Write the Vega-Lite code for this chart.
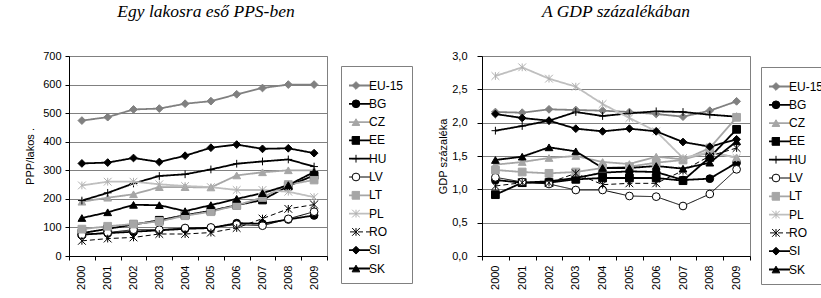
{
  "$schema": "https://vega.github.io/schema/vega-lite/v6.json",
  "background": "white",
  "padding": {"left": 24, "top": 2, "right": 0, "bottom": 0},
  "config": {
    "font": "Liberation Sans",
    "view": {"stroke": "#808080"},
    "axis": {"labelFont": "Liberation Sans", "labelFontSize": 11, "labelColor": "#000", "titleFont": "Liberation Sans", "titleFontSize": 11, "titleFontWeight": "normal", "titleColor": "#000", "domainColor": "#000", "tickColor": "#000", "gridColor": "#808080", "gridWidth": 1},
    "title": {"font": "Liberation Serif", "fontSize": 17.5, "fontStyle": "italic", "fontWeight": "normal", "color": "#000", "anchor": "middle"},
    "concat": {"spacing": 24}
  },
  "datasets": {
    "pps": [
      {"country":"EU-15","year":"2000","value":474},{"country":"EU-15","year":"2001","value":486},{"country":"EU-15","year":"2002","value":513},{"country":"EU-15","year":"2003","value":516},{"country":"EU-15","year":"2004","value":533},{"country":"EU-15","year":"2005","value":542},{"country":"EU-15","year":"2006","value":566},{"country":"EU-15","year":"2007","value":588},{"country":"EU-15","year":"2008","value":600},{"country":"EU-15","year":"2009","value":600},
      {"country":"BG","year":"2000","value":75},{"country":"BG","year":"2001","value":80},{"country":"BG","year":"2002","value":85},{"country":"BG","year":"2003","value":90},{"country":"BG","year":"2004","value":95},{"country":"BG","year":"2005","value":98},{"country":"BG","year":"2006","value":115},{"country":"BG","year":"2007","value":113},{"country":"BG","year":"2008","value":128},{"country":"BG","year":"2009","value":142},
      {"country":"CZ","year":"2000","value":190},{"country":"CZ","year":"2001","value":204},{"country":"CZ","year":"2002","value":216},{"country":"CZ","year":"2003","value":241},{"country":"CZ","year":"2004","value":241},{"country":"CZ","year":"2005","value":240},{"country":"CZ","year":"2006","value":282},{"country":"CZ","year":"2007","value":293},{"country":"CZ","year":"2008","value":300},{"country":"CZ","year":"2009","value":300},
      {"country":"EE","year":"2000","value":80},{"country":"EE","year":"2001","value":95},{"country":"EE","year":"2002","value":110},{"country":"EE","year":"2003","value":125},{"country":"EE","year":"2004","value":143},{"country":"EE","year":"2005","value":158},{"country":"EE","year":"2006","value":178},{"country":"EE","year":"2007","value":196},{"country":"EE","year":"2008","value":245},{"country":"EE","year":"2009","value":282},
      {"country":"HU","year":"2000","value":194},{"country":"HU","year":"2001","value":221},{"country":"HU","year":"2002","value":254},{"country":"HU","year":"2003","value":280},{"country":"HU","year":"2004","value":286},{"country":"HU","year":"2005","value":303},{"country":"HU","year":"2006","value":323},{"country":"HU","year":"2007","value":331},{"country":"HU","year":"2008","value":338},{"country":"HU","year":"2009","value":313},
      {"country":"LV","year":"2000","value":74},{"country":"LV","year":"2001","value":82},{"country":"LV","year":"2002","value":92},{"country":"LV","year":"2003","value":92},{"country":"LV","year":"2004","value":98},{"country":"LV","year":"2005","value":100},{"country":"LV","year":"2006","value":110},{"country":"LV","year":"2007","value":106},{"country":"LV","year":"2008","value":130},{"country":"LV","year":"2009","value":155},
      {"country":"LT","year":"2000","value":94},{"country":"LT","year":"2001","value":104},{"country":"LT","year":"2002","value":112},{"country":"LT","year":"2003","value":121},{"country":"LT","year":"2004","value":141},{"country":"LT","year":"2005","value":155},{"country":"LT","year":"2006","value":177},{"country":"LT","year":"2007","value":205},{"country":"LT","year":"2008","value":250},{"country":"LT","year":"2009","value":266},
      {"country":"PL","year":"2000","value":247},{"country":"PL","year":"2001","value":260},{"country":"PL","year":"2002","value":260},{"country":"PL","year":"2003","value":251},{"country":"PL","year":"2004","value":245},{"country":"PL","year":"2005","value":241},{"country":"PL","year":"2006","value":231},{"country":"PL","year":"2007","value":231},{"country":"PL","year":"2008","value":225},{"country":"PL","year":"2009","value":206},
      {"country":"RO","year":"2000","value":53},{"country":"RO","year":"2001","value":61},{"country":"RO","year":"2002","value":65},{"country":"RO","year":"2003","value":77},{"country":"RO","year":"2004","value":77},{"country":"RO","year":"2005","value":82},{"country":"RO","year":"2006","value":98},{"country":"RO","year":"2007","value":131},{"country":"RO","year":"2008","value":165},{"country":"RO","year":"2009","value":180},
      {"country":"SI","year":"2000","value":324},{"country":"SI","year":"2001","value":327},{"country":"SI","year":"2002","value":343},{"country":"SI","year":"2003","value":329},{"country":"SI","year":"2004","value":351},{"country":"SI","year":"2005","value":379},{"country":"SI","year":"2006","value":390},{"country":"SI","year":"2007","value":375},{"country":"SI","year":"2008","value":377},{"country":"SI","year":"2009","value":360},
      {"country":"SK","year":"2000","value":133},{"country":"SK","year":"2001","value":153},{"country":"SK","year":"2002","value":179},{"country":"SK","year":"2003","value":178},{"country":"SK","year":"2004","value":157},{"country":"SK","year":"2005","value":178},{"country":"SK","year":"2006","value":200},{"country":"SK","year":"2007","value":220},{"country":"SK","year":"2008","value":248},{"country":"SK","year":"2009","value":294}
    ],
    "gdp": [
      {"country":"EU-15","year":"2000","value":2.16},{"country":"EU-15","year":"2001","value":2.15},{"country":"EU-15","year":"2002","value":2.2},{"country":"EU-15","year":"2003","value":2.19},{"country":"EU-15","year":"2004","value":2.18},{"country":"EU-15","year":"2005","value":2.16},{"country":"EU-15","year":"2006","value":2.13},{"country":"EU-15","year":"2007","value":2.09},{"country":"EU-15","year":"2008","value":2.18},{"country":"EU-15","year":"2009","value":2.32},
      {"country":"BG","year":"2000","value":1.14},{"country":"BG","year":"2001","value":1.1},{"country":"BG","year":"2002","value":1.12},{"country":"BG","year":"2003","value":1.17},{"country":"BG","year":"2004","value":1.25},{"country":"BG","year":"2005","value":1.27},{"country":"BG","year":"2006","value":1.26},{"country":"BG","year":"2007","value":1.14},{"country":"BG","year":"2008","value":1.16},{"country":"BG","year":"2009","value":1.4},
      {"country":"CZ","year":"2000","value":1.37},{"country":"CZ","year":"2001","value":1.41},{"country":"CZ","year":"2002","value":1.47},{"country":"CZ","year":"2003","value":1.5},{"country":"CZ","year":"2004","value":1.41},{"country":"CZ","year":"2005","value":1.38},{"country":"CZ","year":"2006","value":1.49},{"country":"CZ","year":"2007","value":1.45},{"country":"CZ","year":"2008","value":1.55},{"country":"CZ","year":"2009","value":1.48},
      {"country":"EE","year":"2000","value":0.92},{"country":"EE","year":"2001","value":1.1},{"country":"EE","year":"2002","value":1.1},{"country":"EE","year":"2003","value":1.15},{"country":"EE","year":"2004","value":1.17},{"country":"EE","year":"2005","value":1.17},{"country":"EE","year":"2006","value":1.17},{"country":"EE","year":"2007","value":1.13},{"country":"EE","year":"2008","value":1.48},{"country":"EE","year":"2009","value":1.9},
      {"country":"HU","year":"2000","value":1.88},{"country":"HU","year":"2001","value":1.95},{"country":"HU","year":"2002","value":2.03},{"country":"HU","year":"2003","value":2.16},{"country":"HU","year":"2004","value":2.1},{"country":"HU","year":"2005","value":2.14},{"country":"HU","year":"2006","value":2.17},{"country":"HU","year":"2007","value":2.16},{"country":"HU","year":"2008","value":2.12},{"country":"HU","year":"2009","value":2.09},
      {"country":"LV","year":"2000","value":1.18},{"country":"LV","year":"2001","value":1.11},{"country":"LV","year":"2002","value":1.08},{"country":"LV","year":"2003","value":0.99},{"country":"LV","year":"2004","value":0.99},{"country":"LV","year":"2005","value":0.9},{"country":"LV","year":"2006","value":0.89},{"country":"LV","year":"2007","value":0.75},{"country":"LV","year":"2008","value":0.93},{"country":"LV","year":"2009","value":1.3},
      {"country":"LT","year":"2000","value":1.29},{"country":"LT","year":"2001","value":1.26},{"country":"LT","year":"2002","value":1.24},{"country":"LT","year":"2003","value":1.26},{"country":"LT","year":"2004","value":1.32},{"country":"LT","year":"2005","value":1.34},{"country":"LT","year":"2006","value":1.4},{"country":"LT","year":"2007","value":1.44},{"country":"LT","year":"2008","value":1.62},{"country":"LT","year":"2009","value":2.08},
      {"country":"PL","year":"2000","value":2.7},{"country":"PL","year":"2001","value":2.83},{"country":"PL","year":"2002","value":2.66},{"country":"PL","year":"2003","value":2.54},{"country":"PL","year":"2004","value":2.28},{"country":"PL","year":"2005","value":2.07},{"country":"PL","year":"2006","value":1.87},{"country":"PL","year":"2007","value":1.47},{"country":"PL","year":"2008","value":1.56},{"country":"PL","year":"2009","value":1.47},
      {"country":"RO","year":"2000","value":1.05},{"country":"RO","year":"2001","value":1.1},{"country":"RO","year":"2002","value":1.1},{"country":"RO","year":"2003","value":1.24},{"country":"RO","year":"2004","value":1.07},{"country":"RO","year":"2005","value":1.09},{"country":"RO","year":"2006","value":1.09},{"country":"RO","year":"2007","value":1.28},{"country":"RO","year":"2008","value":1.5},{"country":"RO","year":"2009","value":1.62},
      {"country":"SI","year":"2000","value":2.13},{"country":"SI","year":"2001","value":2.07},{"country":"SI","year":"2002","value":2.03},{"country":"SI","year":"2003","value":1.91},{"country":"SI","year":"2004","value":1.87},{"country":"SI","year":"2005","value":1.91},{"country":"SI","year":"2006","value":1.87},{"country":"SI","year":"2007","value":1.71},{"country":"SI","year":"2008","value":1.64},{"country":"SI","year":"2009","value":1.75},
      {"country":"SK","year":"2000","value":1.44},{"country":"SK","year":"2001","value":1.49},{"country":"SK","year":"2002","value":1.63},{"country":"SK","year":"2003","value":1.57},{"country":"SK","year":"2004","value":1.32},{"country":"SK","year":"2005","value":1.32},{"country":"SK","year":"2006","value":1.35},{"country":"SK","year":"2007","value":1.31},{"country":"SK","year":"2008","value":1.4},{"country":"SK","year":"2009","value":1.72}
    ]
  },
  "resolve": {"scale": {"color": "independent", "strokeDash": "independent", "shape": "independent", "fill": "independent", "stroke": "independent"}},
  "hconcat": [
    {
      "width": 258,
      "height": 200,
      "title": {"text": "Egy lakosra eső PPS-ben", "frame": "group", "offset": 30, "dx": 8},
      "data": {"name": "pps"},
      "encoding": {
        "x": {"field": "year", "type": "ordinal", "scale": {"type": "band", "paddingInner": 0, "paddingOuter": 0}, "axis": {"title": null, "labelAngle": -90, "labelAlign": "right", "labelBaseline": "middle", "tickBand": "extent", "tickSize": 4, "labelPadding": 5, "grid": false}},
        "y": {"field": "value", "type": "quantitative", "scale": {"domain": [0, 700]}, "axis": {"title": "PPP/lakos .", "values": [0, 100, 200, 300, 400, 500, 600, 700], "tickSize": 4, "labelPadding": 4, "titlePadding": 7, "grid": true}}
      },
      "layer": [
        {
          "mark": {"type": "line", "strokeJoin": "round"},
          "encoding": {
            "color": {"field": "country", "type": "nominal",
              "scale": {"domain": ["EU-15","BG","CZ","EE","HU","LV","LT","PL","RO","SI","SK"], "range": ["#808080","#000000","#a6a6a6","#000000","#000000","#000000","#a6a6a6","#bfbfbf","#000000","#000000","#000000"]},
              "legend": {"orient": "none", "legendX": 272, "legendY": 10, "title": " ", "titleFontSize": 1, "titlePadding": 5, "columns": 1, "clipHeight": 11, "symbolType": "stroke", "symbolSize": 784, "symbolStrokeWidth": 1.8, "symbolOffset": -8, "labelOffset": -2, "strokeColor": "#808080", "fillColor": "white", "padding": 8, "rowPadding": 5.3, "labelFont": "Liberation Sans", "labelFontSize": 12, "labelColor": "#000",
                "encode": {"symbols": {"update": {"strokeWidth": {"signal": "(datum.value === 'LV' || datum.value === 'RO' ? 1 : 1.8)"}}}}}},
            "strokeDash": {"field": "country", "type": "nominal",
              "scale": {"domain": ["EU-15","BG","CZ","EE","HU","LV","LT","PL","RO","SI","SK"], "range": [[1,0],[1,0],[1,0],[1,0],[1,0],[1,0],[1,0],[1,0],[5,3],[1,0],[1,0]]},
              "legend": {"orient": "none", "legendX": 272, "legendY": 10, "title": " ", "titleFontSize": 1, "titlePadding": 5, "columns": 1, "clipHeight": 11, "symbolType": "stroke", "symbolSize": 784, "symbolStrokeWidth": 1.8, "symbolOffset": -8, "labelOffset": -2, "strokeColor": "#808080", "fillColor": "white", "padding": 8, "rowPadding": 5.3, "labelFont": "Liberation Sans", "labelFontSize": 12, "labelColor": "#000"}},
            "strokeWidth": {"condition": {"test": "datum.country === 'LV' || datum.country === 'RO'", "value": 1}, "value": 1.8}
          }
        },
        {
          "mark": {"type": "point", "filled": true, "size": 60, "strokeWidth": 1, "opacity": 1},
          "encoding": {
            "shape": {"field": "country", "type": "nominal",
              "scale": {"domain": ["EU-15","BG","CZ","EE","HU","LV","LT","PL","RO","SI","SK","_"], "range": ["diamond","circle","triangle-up","square","M-1,0L1,0M0,-1L0,1","circle","square","M-1,-1L1,1M-1,1L1,-1M0,-1L0,1","M-1,-1L1,1M-1,1L1,-1M0,-1L0,1","diamond","triangle-up","circle"]},
              "legend": {"orient": "none", "legendX": 272, "legendY": 10, "title": " ", "titleFontSize": 1, "titlePadding": 5, "columns": 1, "clipHeight": 11, "values": ["EU-15","BG","CZ","EE","HU","LV","LT","PL","RO","SI","SK"], "symbolSize": 60, "symbolOffset": 1, "symbolStrokeWidth": 1, "padding": 8, "rowPadding": 5.3, "labelFont": "Liberation Sans", "labelFontSize": 12, "labelColor": "rgba(0,0,0,0)", "labelExpr": "' '", "labelOffset": -2}},
            "fill": {"field": "country", "type": "nominal",
              "scale": {"domain": ["EU-15","BG","CZ","EE","HU","LV","LT","PL","RO","SI","SK","_"], "range": ["#808080","#000000","#a6a6a6","#000000","#000000","#ffffff","#a6a6a6","#bfbfbf","#000000","#000000","#000000","#000000"]},
              "legend": {"orient": "none", "legendX": 272, "legendY": 10, "title": " ", "titleFontSize": 1, "titlePadding": 5, "columns": 1, "clipHeight": 11, "values": ["EU-15","BG","CZ","EE","HU","LV","LT","PL","RO","SI","SK"], "symbolSize": 60, "symbolOffset": 1, "symbolStrokeWidth": 1, "padding": 8, "rowPadding": 5.3, "labelFont": "Liberation Sans", "labelFontSize": 12, "labelColor": "rgba(0,0,0,0)", "labelExpr": "' '", "labelOffset": -2}},
            "stroke": {"field": "country", "type": "nominal",
              "scale": {"domain": ["EU-15","BG","CZ","EE","HU","LV","LT","PL","RO","SI","SK","_"], "range": ["#808080","#000000","#a6a6a6","#000000","#000000","#000000","#a6a6a6","#b0b0b0","#000000","#000000","#000000","#000000"]},
              "legend": {"orient": "none", "legendX": 272, "legendY": 10, "title": " ", "titleFontSize": 1, "titlePadding": 5, "columns": 1, "clipHeight": 11, "values": ["EU-15","BG","CZ","EE","HU","LV","LT","PL","RO","SI","SK"], "symbolSize": 60, "symbolOffset": 1, "symbolStrokeWidth": 1, "padding": 8, "rowPadding": 5.3, "labelFont": "Liberation Sans", "labelFontSize": 12, "labelColor": "rgba(0,0,0,0)", "labelExpr": "' '", "labelOffset": -2}}
          }
        }
      ]
    },
    {
      "width": 268,
      "height": 200,
      "title": {"text": "A GDP százalékában", "frame": "group", "offset": 30},
      "data": {"name": "gdp"},
      "encoding": {
        "x": {"field": "year", "type": "ordinal", "scale": {"type": "band", "paddingInner": 0, "paddingOuter": 0}, "axis": {"title": null, "labelAngle": -90, "labelAlign": "right", "labelBaseline": "middle", "tickBand": "extent", "tickSize": 4, "labelPadding": 5, "grid": false}},
        "y": {"field": "value", "type": "quantitative", "scale": {"domain": [0, 3]}, "axis": {"title": "GDP százaléka", "values": [0, 0.5, 1, 1.5, 2, 2.5, 3], "labelExpr": "replace(format(datum.value, '.1f'), '.', ',')", "tickSize": 5, "labelPadding": 10, "titlePadding": 3, "grid": true}}
      },
      "layer": [
        {
          "mark": {"type": "line", "strokeJoin": "round"},
          "encoding": {
            "color": {"field": "country", "type": "nominal",
              "scale": {"domain": ["EU-15","BG","CZ","EE","HU","LV","LT","PL","RO","SI","SK"], "range": ["#808080","#000000","#a6a6a6","#000000","#000000","#000000","#a6a6a6","#bfbfbf","#000000","#000000","#000000"]},
              "legend": {"orient": "none", "legendX": 279, "legendY": 11, "title": " ", "titleFontSize": 1, "titlePadding": 5, "columns": 1, "clipHeight": 11, "symbolType": "stroke", "symbolSize": 784, "symbolStrokeWidth": 1.8, "symbolOffset": -8, "labelOffset": -2, "strokeColor": "#808080", "fillColor": "white", "padding": 8, "rowPadding": 5.3, "labelFont": "Liberation Sans", "labelFontSize": 12, "labelColor": "#000",
                "encode": {"symbols": {"update": {"strokeWidth": {"signal": "(datum.value === 'LV' || datum.value === 'RO' ? 1 : 1.8)"}}}}}},
            "strokeDash": {"field": "country", "type": "nominal",
              "scale": {"domain": ["EU-15","BG","CZ","EE","HU","LV","LT","PL","RO","SI","SK"], "range": [[1,0],[1,0],[1,0],[1,0],[1,0],[1,0],[1,0],[1,0],[5,3],[1,0],[1,0]]},
              "legend": {"orient": "none", "legendX": 279, "legendY": 11, "title": " ", "titleFontSize": 1, "titlePadding": 5, "columns": 1, "clipHeight": 11, "symbolType": "stroke", "symbolSize": 784, "symbolStrokeWidth": 1.8, "symbolOffset": -8, "labelOffset": -2, "strokeColor": "#808080", "fillColor": "white", "padding": 8, "rowPadding": 5.3, "labelFont": "Liberation Sans", "labelFontSize": 12, "labelColor": "#000"}},
            "strokeWidth": {"condition": {"test": "datum.country === 'LV' || datum.country === 'RO'", "value": 1}, "value": 1.8}
          }
        },
        {
          "mark": {"type": "point", "filled": true, "size": 60, "strokeWidth": 1, "opacity": 1},
          "encoding": {
            "shape": {"field": "country", "type": "nominal",
              "scale": {"domain": ["EU-15","BG","CZ","EE","HU","LV","LT","PL","RO","SI","SK","_"], "range": ["diamond","circle","triangle-up","square","M-1,0L1,0M0,-1L0,1","circle","square","M-1,-1L1,1M-1,1L1,-1M0,-1L0,1","M-1,-1L1,1M-1,1L1,-1M0,-1L0,1","diamond","triangle-up","circle"]},
              "legend": {"orient": "none", "legendX": 279, "legendY": 11, "title": " ", "titleFontSize": 1, "titlePadding": 5, "columns": 1, "clipHeight": 11, "values": ["EU-15","BG","CZ","EE","HU","LV","LT","PL","RO","SI","SK"], "symbolSize": 60, "symbolOffset": 1, "symbolStrokeWidth": 1, "padding": 8, "rowPadding": 5.3, "labelFont": "Liberation Sans", "labelFontSize": 12, "labelColor": "rgba(0,0,0,0)", "labelExpr": "' '", "labelOffset": -2}},
            "fill": {"field": "country", "type": "nominal",
              "scale": {"domain": ["EU-15","BG","CZ","EE","HU","LV","LT","PL","RO","SI","SK","_"], "range": ["#808080","#000000","#a6a6a6","#000000","#000000","#ffffff","#a6a6a6","#bfbfbf","#000000","#000000","#000000","#000000"]},
              "legend": {"orient": "none", "legendX": 279, "legendY": 11, "title": " ", "titleFontSize": 1, "titlePadding": 5, "columns": 1, "clipHeight": 11, "values": ["EU-15","BG","CZ","EE","HU","LV","LT","PL","RO","SI","SK"], "symbolSize": 60, "symbolOffset": 1, "symbolStrokeWidth": 1, "padding": 8, "rowPadding": 5.3, "labelFont": "Liberation Sans", "labelFontSize": 12, "labelColor": "rgba(0,0,0,0)", "labelExpr": "' '", "labelOffset": -2}},
            "stroke": {"field": "country", "type": "nominal",
              "scale": {"domain": ["EU-15","BG","CZ","EE","HU","LV","LT","PL","RO","SI","SK","_"], "range": ["#808080","#000000","#a6a6a6","#000000","#000000","#000000","#a6a6a6","#b0b0b0","#000000","#000000","#000000","#000000"]},
              "legend": {"orient": "none", "legendX": 279, "legendY": 11, "title": " ", "titleFontSize": 1, "titlePadding": 5, "columns": 1, "clipHeight": 11, "values": ["EU-15","BG","CZ","EE","HU","LV","LT","PL","RO","SI","SK"], "symbolSize": 60, "symbolOffset": 1, "symbolStrokeWidth": 1, "padding": 8, "rowPadding": 5.3, "labelFont": "Liberation Sans", "labelFontSize": 12, "labelColor": "rgba(0,0,0,0)", "labelExpr": "' '", "labelOffset": -2}}
          }
        }
      ]
    }
  ]
}
